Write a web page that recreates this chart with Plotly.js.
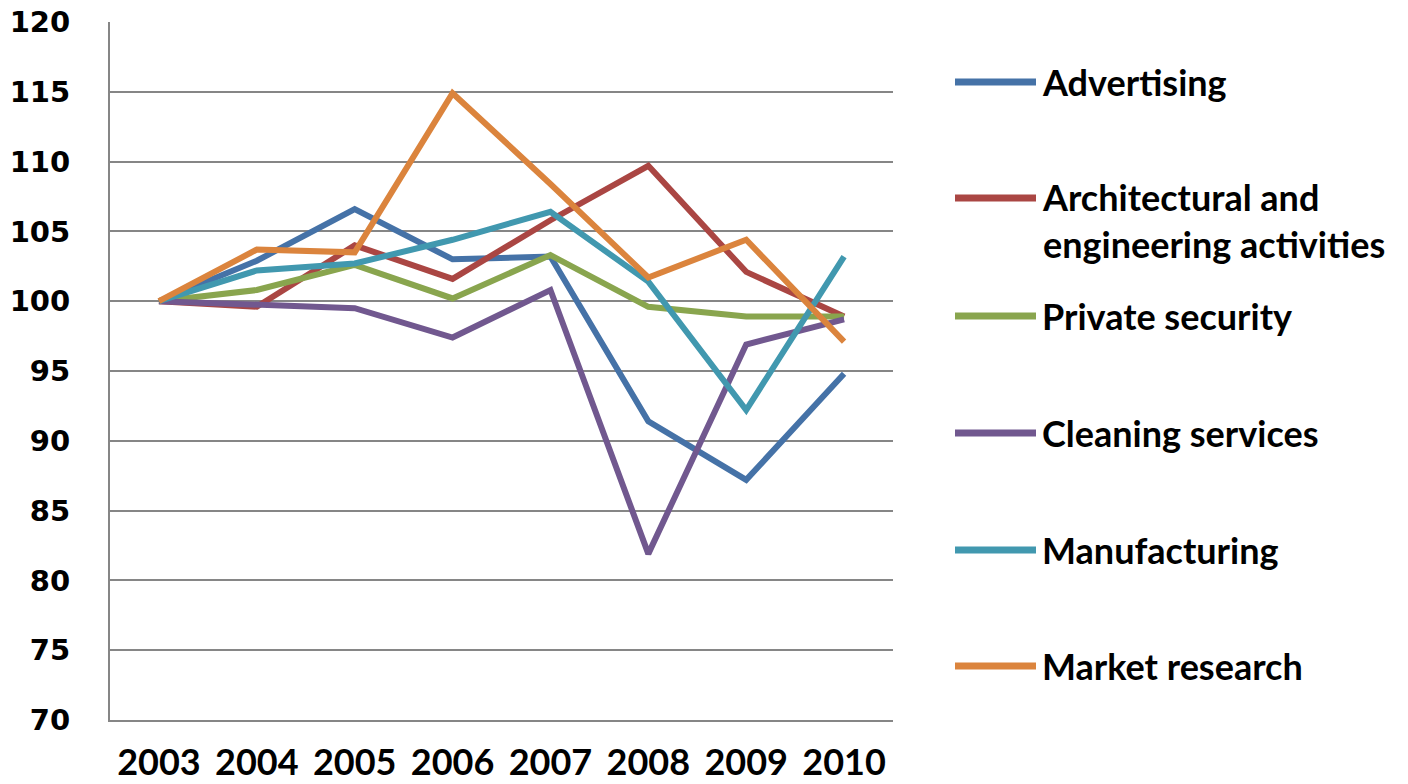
<!DOCTYPE html>
<html>
<head>
<meta charset="utf-8">
<script src="https://cdn.plot.ly/plotly-3.0.1.min.js"></script>
<style>html,body{margin:0;padding:0;background:#fff;}#chart{width:1408px;height:784px;}</style>
</head>
<body>
<div id="chart"></div>
<script>
var years = ["2003", "2004", "2005", "2006", "2007", "2008", "2009", "2010"];
var seriesNames = ["Advertising", "Architectural and engineering activities", "Private security", "Cleaning services", "Manufacturing", "Market research"];
var legendLabels = ["Advertising", "Architectural and<br>engineering activities", "Private security", "Cleaning services", "Manufacturing", "Market research"];
var advertising = [100, 102.9, 106.6, 103.0, 103.2, 91.4, 87.2, 94.8];
var architectural = [100, 99.6, 104.0, 101.6, 105.8, 109.7, 102.1, 98.9];
var privateSecurity = [100, 100.8, 102.6, 100.2, 103.3, 99.6, 98.9, 98.9];
var cleaning = [100, 99.8, 99.5, 97.4, 100.8, 81.9, 96.9, 98.7];
var manufacturing = [100, 102.2, 102.7, 104.4, 106.4, 101.4, 92.2, 103.2];
var marketResearch = [100, 103.7, 103.5, 114.9, 108.4, 101.7, 104.4, 97.1];
var colors = ["#4572A7", "#AA4643", "#89A54E", "#71588F", "#4198AF", "#DB843D"];

var allSeries = [advertising, architectural, privateSecurity, cleaning, manufacturing, marketResearch];

var W = 1408, H = 784;
var mL = 110, mR = 515, mT = 22, mB = 64;
var pw = W - mL - mR, ph = H - mT - mB;
function px2x(p) { return (p - mL) / pw; }
function py2y(p) { return (H - mB - p) / ph; }

var traces = allSeries.map(function (vals, i) {
  return {
    type: "scatter", mode: "lines", x: years, y: vals, name: seriesNames[i],
    line: { color: colors[i], width: 6 }, showlegend: false, hoverinfo: "x+y+name"
  };
});

var legendY = [82, 198, 316, 433, 550, 666];
var shapes = [], annotations = [];
legendLabels.forEach(function (lab, i) {
  shapes.push({
    type: "line", xref: "paper", yref: "paper",
    x0: px2x(955), x1: px2x(1036), y0: py2y(legendY[i]), y1: py2y(legendY[i]),
    line: { color: colors[i], width: 7 }
  });
  var twoLine = lab.indexOf("<br>") >= 0;
  annotations.push({
    xref: "paper", yref: "paper", x: px2x(1040),
    y: twoLine ? py2y(legendY[i] - 25) : py2y(legendY[i]),
    xanchor: "left", yanchor: twoLine ? "top" : "middle", align: "left",
    text: "<b>" + lab + "</b>", showarrow: false,
    font: { family: "Lato, 'Liberation Sans', sans-serif", size: 36, color: "#000" }
  });
});

var layout = {
  width: W, height: H,
  margin: { l: mL, r: mR, t: mT, b: mB, pad: 0 },
  paper_bgcolor: "#fff", plot_bgcolor: "#fff",
  showlegend: false,
  xaxis: {
    type: "category", range: [-0.5, 7.5], showgrid: false, zeroline: false,
    showline: true, linecolor: "#868686", linewidth: 2, ticks: "",
    ticklabelstandoff: 10,
    tickfont: { family: "Lato, 'Liberation Sans', sans-serif", size: 36, color: "#000", weight: "bold" }
  },
  yaxis: {
    range: [70, 120], dtick: 5, tick0: 70, showgrid: true, gridcolor: "#868686", gridwidth: 2,
    zeroline: false, showline: true, linecolor: "#868686", linewidth: 2, ticks: "",
    ticklabelstandoff: 32,
    tickfont: { family: "'DejaVu Sans', sans-serif", size: 29, color: "#000", weight: "bold" }
  },
  shapes: shapes,
  annotations: annotations
};

Plotly.newPlot("chart", traces, layout, { displayModeBar: false, staticPlot: true });
</script>
</body>
</html>
